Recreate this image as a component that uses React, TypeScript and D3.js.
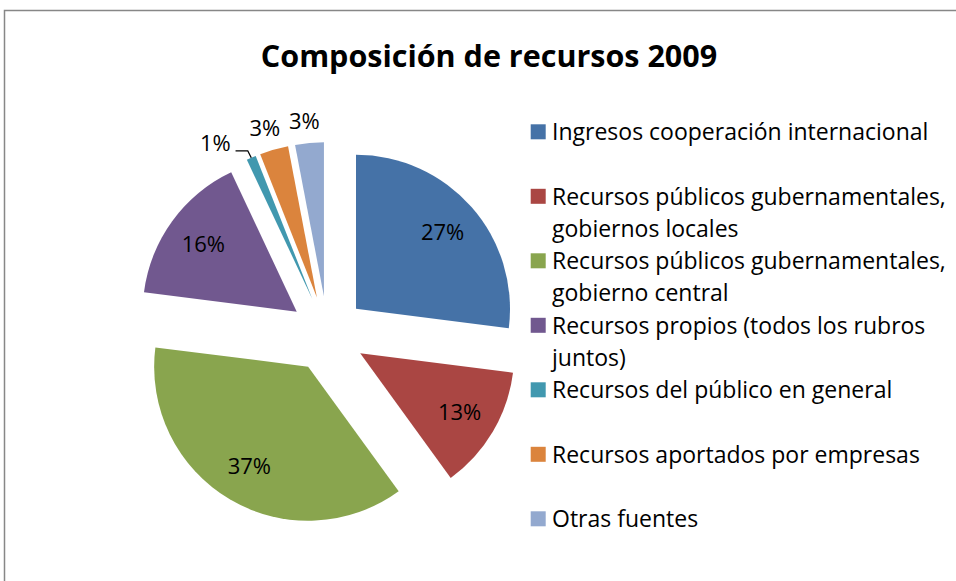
import React from "react";
import * as d3 from "d3";

const title = "Composición de recursos 2009";
const categories = [
  "Ingresos cooperación internacional",
  "Recursos públicos gubernamentales, gobiernos locales",
  "Recursos públicos gubernamentales, gobierno central",
  "Recursos propios (todos los rubros juntos)",
  "Recursos del público en general",
  "Recursos aportados por empresas",
  "Otras fuentes",
];
const values = [27, 13, 37, 16, 1, 3, 3];
const labels = ["27%", "13%", "37%", "16%", "1%", "3%", "3%"];
const colors = ["#4572A7", "#AA4643", "#89A54E", "#71588F", "#4198AF", "#DB843D", "#93A9CF"];

const W = 956;
const H = 581;
const FONT = "'Open Sans', Lato, sans-serif";
const LEGEND_FONT_SIZE = 23;
const LEGEND_MAX_W = 404;

function wrap(text: string, maxW: number): string[] {
  const canvas = document.createElement("canvas");
  const ctx = canvas.getContext("2d")!;
  ctx.font = `${LEGEND_FONT_SIZE}px 'Open Sans'`;
  const words = text.split(" ");
  const lines: string[] = [];
  let cur = "";
  for (const w of words) {
    const t = cur ? cur + " " + w : w;
    if (cur && ctx.measureText(t).width > maxW) {
      lines.push(cur);
      cur = w;
    } else cur = t;
  }
  if (cur) lines.push(cur);
  return lines;
}

export default function App() {
  const cx = 327.5;
  const cy = 334;
  const r = 154;
  const explode = 38;

  const pie = d3
    .pie<number>()
    .sort(null)
    .value((d) => d)
    .startAngle(0)
    .endAngle(2 * Math.PI);
  const arcs = pie(values);
  const arc = d3.arc<d3.PieArcDatum<number>>().innerRadius(0).outerRadius(r);

  const legendX = 530.7;
  const legendY0 = 140;
  const legendStep = 64.5;
  const lineStep = 32;

  return (
    <svg
      width={W}
      height={H}
      style={{ position: "absolute", left: 0, top: 0, background: "#fff" }}
    >
      <rect x={0} y={0} width={W} height={H} fill="#fff" />
      <path d={`M4.5,${H} V10.5 H${W}`} fill="none" stroke="#878787" strokeWidth={1.5} />
      <text
        x={489}
        y={66.5}
        textAnchor="middle"
        fontFamily={FONT}
        fontWeight={700}
        fontSize={30.5}
        fill="#000"
      >
        {title}
      </text>
      <g transform={`translate(${cx},${cy})`}>
        {arcs.map((a, i) => {
          const mid = (a.startAngle + a.endAngle) / 2;
          const ox = Math.sin(mid) * explode;
          const oy = -Math.cos(mid) * explode;
          return (
            <path
              key={i}
              d={arc(a) || ""}
              transform={`translate(${ox},${oy})`}
              fill={colors[i]}
            />
          );
        })}
        {arcs.map((a, i) => {
          const mid = (a.startAngle + a.endAngle) / 2;
          const sx = Math.sin(mid);
          const sy = -Math.cos(mid);
          const ox = sx * explode;
          const oy = sy * explode;
          const inside = values[i] >= 5;
          if (inside) {
            const d = r * 0.75;
            return (
              <text
                key={i}
                x={ox + sx * d}
                y={oy + sy * d}
                dy="0.36em"
                textAnchor="middle"
                fontFamily={FONT}
                fontSize={22}
                fill="#000"
              >
                {labels[i]}
              </text>
            );
          }
          const ax = ox + sx * r;
          const ay = oy + sy * r;
          if (values[i] < 2) {
            return (
              <g key={i}>
                <path
                  d={`M${ax - 15.7},${ay - 7} H${ax - 3.5} L${ax},${ay}`}
                  fill="none"
                  stroke="#000"
                  strokeWidth={1.3}
                />
                <text
                  x={ax - 20.5}
                  y={ay - 14.5}
                  dy="0.36em"
                  textAnchor="end"
                  fontFamily={FONT}
                  fontSize={22}
                  fill="#000"
                >
                  {labels[i]}
                </text>
              </g>
            );
          }
          const d = r + 22;
          return (
            <text
              key={i}
              x={ox + sx * d - 3}
              y={oy + sy * d}
              dy="0.36em"
              textAnchor="middle"
              fontFamily={FONT}
              fontSize={22}
              fill="#000"
            >
              {labels[i]}
            </text>
          );
        })}
      </g>
      <g>
        {categories.map((c, i) => {
          const y = legendY0 + i * legendStep;
          const lines = wrap(c, LEGEND_MAX_W);
          return (
            <g key={i}>
              <rect x={legendX} y={y - 15.7} width={15} height={15} fill={colors[i]} />
              <text fontFamily={FONT} fontSize={LEGEND_FONT_SIZE} fill="#000">
                {lines.map((l, j) => (
                  <tspan key={j} x={552} y={y + j * lineStep}>
                    {l}
                  </tspan>
                ))}
              </text>
            </g>
          );
        })}
      </g>
    </svg>
  );
}
